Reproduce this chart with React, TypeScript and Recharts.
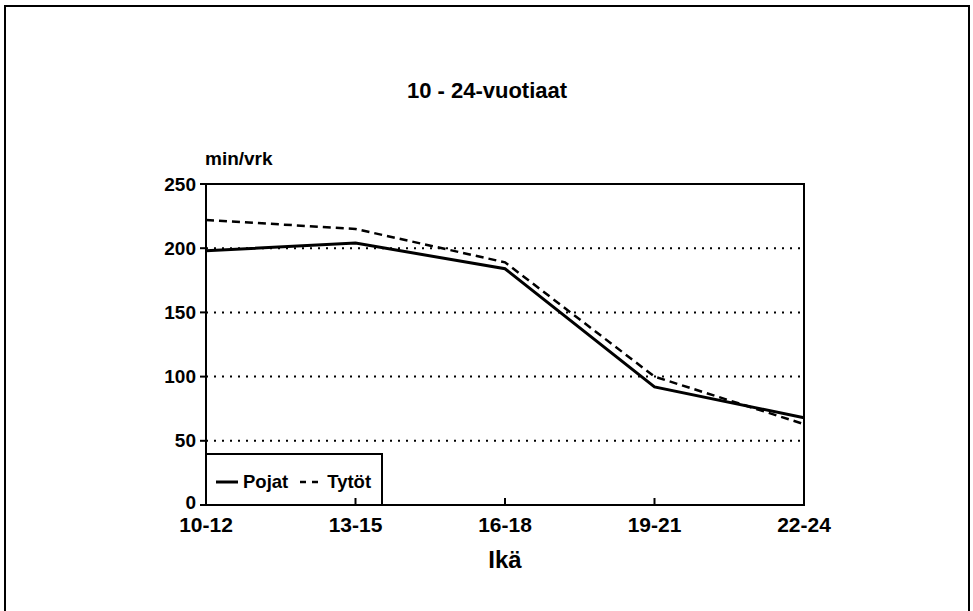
import { LineChart, Line, XAxis, YAxis, CartesianGrid, ReferenceArea, Legend } from 'recharts';

// ikäryhmät ja minuutit vuorokaudessa
const categories = ['10-12', '13-15', '16-18', '19-21', '22-24'];
const pojat = [198, 204, 184, 92, 68];
const tytot = [222, 215, 189, 100, 63];
const yTicks = [0, 50, 100, 150, 200, 250];

const data = categories.map((age, i) => ({ age, pojat: pojat[i], tytot: tytot[i] }));

const series = [
  { key: 'pojat', name: 'Pojat', width: 3, dash: undefined as string | undefined },
  { key: 'tytot', name: 'Tytöt', width: 2.5, dash: '8 5' },
];

const FONT = '"Liberation Sans", Arial, sans-serif';

const XTick = (props: any) => {
  const { x, y, payload } = props;
  return (
    <g>
      <line x1={x} x2={x} y1={y} y2={y - 7} stroke="#000" strokeWidth={2} />
      <text x={x} y={y + 27} textAnchor="middle" fontSize={21} fontWeight="bold" fill="#000" fontFamily={FONT}>
        {payload.value}
      </text>
    </g>
  );
};

const YTick = (props: any) => {
  const { x, y, payload } = props;
  // nolla hieman ylemmäs, ettei osu x-akselin tekstiin
  const shift = payload.value === 0 ? -3 : 0;
  return (
    <text x={x} y={y + shift} dy="0.35em" textAnchor="end" fontSize={19} fontWeight="bold" fill="#000" fontFamily={FONT}>
      {payload.value}
    </text>
  );
};

const LegendBox = () => (
  <div
    style={{
      position: 'absolute',
      left: 0,
      top: 0,
      width: 178,
      height: 53,
      boxSizing: 'border-box',
      border: '2px solid #000',
      display: 'flex',
      alignItems: 'center',
      paddingLeft: 9,
      paddingTop: 4,
      fontFamily: FONT,
      fontSize: 18.5,
      fontWeight: 'bold',
      color: '#000',
    }}
  >
    {series.map((s) => (
      <span key={s.key} style={{ display: 'flex', alignItems: 'center', marginRight: 12 }}>
        <svg width={22} height={6} style={{ marginRight: 5 }}>
          <line x1={0} x2={22} y1={3} y2={3} stroke="#000" strokeWidth={s.width} strokeDasharray={s.dash ? '6 6' : undefined} />
        </svg>
        {s.name}
      </span>
    ))}
  </div>
);

export default function App() {
  return (
    <div style={{ position: 'absolute', left: 0, top: 0, width: 973, height: 611, background: '#fff', fontFamily: FONT }}>
      <div
        style={{
          position: 'absolute',
          left: 4,
          top: 5,
          width: 966,
          height: 620,
          boxSizing: 'border-box',
          borderTop: '2px solid #000',
          borderLeft: '2px solid #000',
          borderRight: '2px solid #000',
        }}
      />
      <div
        style={{
          position: 'absolute',
          left: 487,
          top: 78,
          transform: 'translateX(-50%)',
          whiteSpace: 'nowrap',
          fontSize: 22,
          fontWeight: 'bold',
        }}
      >
        10 - 24-vuotiaat
      </div>
      <div style={{ position: 'absolute', left: 205, top: 148, fontSize: 19, fontWeight: 'bold' }}>min/vrk</div>
      <LineChart
        width={973}
        height={611}
        data={data}
        margin={{ top: 184, right: 169, left: 146, bottom: 76 }}
        style={{ position: 'absolute', left: 0, top: 0 }}
      >
        <CartesianGrid vertical={false} stroke="#000" strokeWidth={2} strokeDasharray="2 6" />
        <XAxis
          dataKey="age"
          height={30}
          tick={<XTick />}
          tickLine={false}
          tickSize={0}
          tickMargin={0}
          axisLine={{ stroke: '#000', strokeWidth: 2 }}
          interval={0}
          label={{ value: 'Ikä', position: 'bottom', offset: 16, fontSize: 24, fontWeight: 'bold', fill: '#000', fontFamily: FONT }}
        />
        <YAxis
          width={60}
          domain={[0, 250]}
          ticks={yTicks}
          interval={0}
          tickSize={6}
          tickMargin={4}
          tickLine={{ stroke: '#000', strokeWidth: 2 }}
          axisLine={{ stroke: '#000', strokeWidth: 2 }}
          tick={<YTick />}
        />
        <ReferenceArea
          x1={categories[0]}
          x2={categories[categories.length - 1]}
          y1={0}
          y2={250}
          fill="none"
          fillOpacity={0}
          stroke="#000"
          strokeWidth={2}
        />
        {series.map((s) => (
          <Line
            key={s.key}
            type="linear"
            dataKey={s.key}
            name={s.name}
            stroke="#000"
            strokeWidth={s.width}
            strokeDasharray={s.dash}
            dot={false}
            activeDot={false}
            isAnimationActive={false}
          />
        ))}
        <Legend
          content={<LegendBox />}
          wrapperStyle={{ position: 'absolute', left: 205, top: 453, bottom: 'auto', width: 178, height: 0, overflow: 'visible' }}
        />
      </LineChart>
    </div>
  );
}
